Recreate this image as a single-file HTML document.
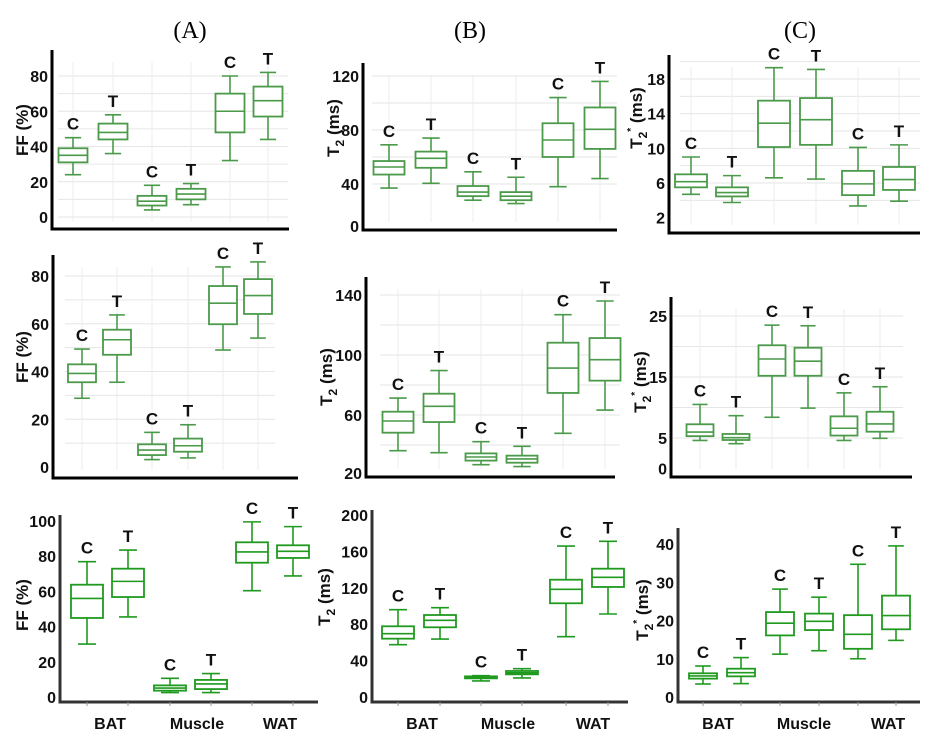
<!DOCTYPE html>
<html><head><meta charset="utf-8"><style>
html,body{margin:0;padding:0;background:#fff;}
svg{display:block;font-family:"Liberation Sans",Arial,sans-serif;}
</style></head><body>
<svg id="fig" width="946" height="733" viewBox="0 0 946 733" xmlns="http://www.w3.org/2000/svg">
<text x="190" y="38" font-family="Liberation Serif,serif" font-size="24" text-anchor="middle">(A)</text>
<text x="470" y="38" font-family="Liberation Serif,serif" font-size="24" text-anchor="middle">(B)</text>
<text x="800" y="38" font-family="Liberation Serif,serif" font-size="24" text-anchor="middle">(C)</text>
</svg>
<script>
// group labels
const groupLabels = ["C","T","C","T","C","T"];
const tissueLabels = ["BAT","Muscle","WAT"];

// Panel A1 (FF, row 1)
const a1Min=[24,36,4,7,32,44], a1Q1=[31,44,6.5,10,48,57], a1Med=[35,48,9,13,60,66], a1Q3=[39,53,12,16,70,74], a1Max=[45,58,18,19,80,82];
const a1Ticks=[0,20,40,60,80];
// Panel B1 (T2, row 1)
const b1Min=[37,40.5,28,25.5,38,44], b1Q1=[47,52,31,28,60,66], b1Med=[52.6,59,34,31,72.6,80.5], b1Q3=[57,64,38.5,34,85,96.7], b1Max=[69,74,49,45,104,116];
const b1Ticks=[0,40,80,120];
// Panel C1 (T2*, row 1)
const c1Min=[4.7,3.75,6.6,6.45,3.35,3.9], c1Q1=[5.5,4.45,10.15,10.4,4.6,5.2], c1Med=[6.15,4.9,12.9,13.3,5.9,6.4], c1Q3=[7,5.5,15.5,15.8,7.4,7.85], c1Max=[9,6.85,19.3,19.1,10.1,10.4];
const c1Ticks=[2,6,10,14,18];
// Panel A2
const a2Min=[28.8,35.5,3.1,3.8,49,54], a2Q1=[35.5,47,5,6.4,59.8,64.1], a2Med=[39.2,53.3,7.1,8.9,68.6,71.8], a2Q3=[43,57.5,9.5,11.9,75.8,78.7], a2Max=[49.4,63.7,14.5,17.7,83.8,85.9];
const a2Ticks=[0,20,40,60,80];
// Panel B2
const b2Min=[36.2,34.9,26.9,25.6,47.8,63.3], b2Q1=[48.2,55.3,29.6,28.2,74.7,82.9], b2Med=[56,65.8,32,30.7,91.3,96.9], b2Q3=[62.2,74.2,34.4,32.9,108.2,111.3], b2Max=[71.3,89.6,42.2,39.1,126.9,136];
const b2Ticks=[20,60,100,140];
// Panel C2
const c2Min=[4.6,4.07,8.4,9.9,4.6,4.95], c2Q1=[5.3,4.67,15.2,15.2,5.4,6.03], c2Med=[5.98,5.05,17.95,17.6,6.6,7.3], c2Q3=[7.25,5.66,20.2,19.8,8.55,9.3], c2Max=[10.5,8.66,23.5,23.4,12.4,13.4];
const c2Ticks=[0,5,15,25];
// Panel A3
const a3Min=[30.1,45.5,2.5,2.5,60.4,68.8], a3Q1=[44.9,56.8,3.6,4.5,76.3,79], a3Med=[56,65.7,5.1,7.4,82.4,82.8], a3Q3=[63.8,72.9,6.6,9.7,87.9,86.2], a3Max=[76.9,83.5,10.6,13.3,99.5,96.8];
const a3Ticks=[0,20,40,60,80,100];
// Panel B3
const b3Min=[57.5,63.7,17.6,20.9,66.3,91.2], b3Q1=[64.1,76.6,20.5,24.9,103,120.9], b3Med=[69.6,84.3,21.6,26.7,118.3,131.5], b3Q3=[77.7,90.1,22.7,28.6,128.9,141], b3Max=[96,98.2,23.4,31.1,165.9,171.1];
const b3Ticks=[0,40,80,120,160,200];
// Panel C3
const c3Min=[3.4,3.5,11.2,12.1,10,14.8], c3Q1=[4.8,5.4,16.1,17.5,12.6,17.7], c3Med=[5.5,6.35,19.3,19.8,16.4,21.3], c3Q3=[6.2,7.4,22.2,21.8,21.4,26.5], c3Max=[8.1,10.3,28.2,26.1,34.7,39.5];
const c3Ticks=[0,10,20,30,40];

const NS="http://www.w3.org/2000/svg";
const svg=document.getElementById('fig');
function mk(tag,attrs,parent){const e=document.createElementNS(NS,tag);for(const k in attrs)e.setAttribute(k,attrs[k]);(parent||svg).appendChild(e);return e;}

const panels=[
 {id:'a1',mn:a1Min,q1:a1Q1,md:a1Med,q3:a1Q3,mx:a1Max,ticks:a1Ticks,gridStep:10,gridMin:0,gridMax:80,v0:0,p0:217,v1:80,p1:76,left:52,top:50,bottom:229,right:289,gx0:58,gx1:288,cx:[73,113,152,191,230,268],bw:29,title:'FF (%)',tx:22,ty:130,row:1},
 {id:'b1',mn:b1Min,q1:b1Q1,md:b1Med,q3:b1Q3,mx:b1Max,ticks:b1Ticks,gridStep:20,gridMin:40,gridMax:120,v0:40,p0:184,v1:120,p1:76,left:363,top:63,bottom:230,right:617,gx0:372,gx1:617,cx:[389,431,473,516,558,600],bw:31,title:'T2',tx:333,ty:128,row:1},
 {id:'c1',mn:c1Min,q1:c1Q1,md:c1Med,q3:c1Q3,mx:c1Max,ticks:c1Ticks,gridStep:2,gridMin:4,gridMax:20,v0:6,p0:183,v1:18,p1:79,left:669,top:55,bottom:233,right:920,gx0:680,gx1:920,cx:[691,732,774,816,858,899],bw:32,title:'T2*',tx:636,ty:118,row:1},
 {id:'a2',mn:a2Min,q1:a2Q1,md:a2Med,q3:a2Q3,mx:a2Max,ticks:a2Ticks,gridStep:10,gridMin:10,gridMax:80,v0:0,p0:467,v1:80,p1:276,left:53,top:255,bottom:478,right:298,gx0:65,gx1:275,cx:[82,117,152,188,223,258],bw:28,title:'FF (%)',tx:22,ty:357,row:2},
 {id:'b2',mn:b2Min,q1:b2Q1,md:b2Med,q3:b2Q3,mx:b2Max,ticks:b2Ticks,gridStep:20,gridMin:40,gridMax:140,v0:140,p0:295,v1:60,p1:415,left:366,top:277,bottom:477,right:615,gx0:380,gx1:620,cx:[398,439,481,522,563,605],bw:31,title:'T2',tx:326,ty:377,row:2},
 {id:'c2',mn:c2Min,q1:c2Q1,md:c2Med,q3:c2Q3,mx:c2Max,ticks:c2Ticks,gridStep:5,gridMin:5,gridMax:25,v0:25,p0:316,v1:5,p1:438,left:671,top:297,bottom:477,right:912,gx0:673,gx1:903,cx:[700,736,772,808,844,880],bw:27,title:'T2*',tx:640,ty:382,row:2},
 {id:'a3',mn:a3Min,q1:a3Q1,md:a3Med,q3:a3Q3,mx:a3Max,ticks:a3Ticks,gridStep:0,v0:0,p0:697,v1:100,p1:521,left:60,top:515,bottom:702,right:318,cx:[87,128,170,211,252,293],bw:32,title:'FF (%)',tx:22,ty:605,row:3,xl:[110,197,280]},
 {id:'b3',mn:b3Min,q1:b3Q1,md:b3Med,q3:b3Q3,mx:b3Max,ticks:b3Ticks,gridStep:0,v0:0,p0:697,v1:200,p1:515,left:372,top:510,bottom:702,right:628,cx:[398,440,481,522,566,608],bw:32,title:'T2',tx:324,ty:597,row:3,xl:[422,508,593]},
 {id:'c3',mn:c3Min,q1:c3Q1,md:c3Med,q3:c3Q3,mx:c3Max,ticks:c3Ticks,gridStep:0,v0:0,p0:697,v1:40,p1:544,left:678,top:528,bottom:702,right:920,cx:[703,741,780,819,858,896],bw:28,title:'T2*',tx:642,ty:610,row:3,xl:[718,804,888]}
];

panels.forEach(P=>{
  const g=mk('g',{});
  
  
  const y=v=>P.p0+(v-P.v0)*(P.p1-P.p0)/(P.v1-P.v0);
  const col=P.row===3?'#1f9a1f':'#4a9a4a';
  const axisCol=P.row===3?'#333':'#000';
  if(P.gridStep){
    for(let v=P.gridMin;v<=P.gridMax+1e-9;v+=P.gridStep){
      const l=mk('line',{x1:P.gx0,x2:P.gx1,y1:y(v),y2:y(v),stroke:'#e6e6e6','stroke-width':1},g);
      
      
    }
    P.cx.forEach(c=>{
      const l=mk('line',{x1:c,x2:c,y1:P.top+12,y2:P.bottom-8,stroke:'#ececec','stroke-width':1},g);
      
      
    });
  }
  const ax=mk('polyline',{points:`${P.left},${P.top} ${P.left},${P.bottom} ${P.right},${P.bottom}`,fill:'none',stroke:axisCol,'stroke-width':3},g);
  
  
  P.ticks.forEach(t=>{
    let ty=y(t); if(ty>P.bottom-4) ty=P.bottom-4;
    const tx=mk('text',{x:P.left-4,y:ty+6,'font-size':16,'font-weight':'bold','text-anchor':'end',fill:'#111'},g);
    tx.textContent=String(t);
    
    
  });
  const yt=mk('text',{x:0,y:0,'font-size':17,'font-weight':'bold','text-anchor':'middle',fill:'#111',transform:`translate(${P.tx+6},${P.ty}) rotate(-90)`},g);
  if(P.title==='FF (%)'){yt.textContent='FF (%)';}
  else{
    yt.appendChild(document.createTextNode('T'));
    const s=mk('tspan',{'font-size':12,dy:5},yt); s.textContent='2';
    if(P.title==='T2*'){const s2=mk('tspan',{'font-size':10,dy:-13},yt); s2.textContent='*'; const s3=mk('tspan',{dy:8},yt); s3.textContent=' (ms)';}
    else{const s3=mk('tspan',{dy:-5},yt); s3.textContent=' (ms)';}
  }
  
  
  P.cx.forEach((c,i)=>{
    const bg=mk('g',{},g);
    
    
    const hw=P.bw/2, cw=P.bw*0.28;
    const sw=1.6;
    mk('line',{x1:c,x2:c,y1:y(P.mx[i]),y2:y(P.q3[i]),stroke:col,'stroke-width':sw},bg);
    mk('line',{x1:c,x2:c,y1:y(P.q1[i]),y2:y(P.mn[i]),stroke:col,'stroke-width':sw},bg);
    mk('line',{x1:c-cw,x2:c+cw,y1:y(P.mx[i]),y2:y(P.mx[i]),stroke:col,'stroke-width':sw},bg);
    mk('line',{x1:c-cw,x2:c+cw,y1:y(P.mn[i]),y2:y(P.mn[i]),stroke:col,'stroke-width':sw},bg);
    mk('rect',{x:c-hw,y:y(P.q3[i]),width:P.bw,height:y(P.q1[i])-y(P.q3[i]),fill:'#fff',stroke:col,'stroke-width':sw+0.2},bg);
    mk('line',{x1:c-hw,x2:c+hw,y1:y(P.md[i]),y2:y(P.md[i]),stroke:col,'stroke-width':sw},bg);
    const lb=mk('text',{x:c,y:y(P.mx[i])-8,'font-size':17,'font-weight':'bold','text-anchor':'middle',fill:'#111'},g);
    lb.textContent=groupLabels[i];
    
    
  });
  if(P.xl){
    P.xl.forEach((x,j)=>{
      const t=mk('text',{x:x,y:729,'font-size':16,'font-weight':'bold','text-anchor':'middle',fill:'#111'},g);
      t.textContent=tissueLabels[j];
      
      
    });
    P.cx.forEach(c=>{mk('line',{x1:c,x2:c,y1:P.bottom,y2:P.bottom+4,stroke:'#999','stroke-width':1},g);});
  }
});
</script>
</body></html>
